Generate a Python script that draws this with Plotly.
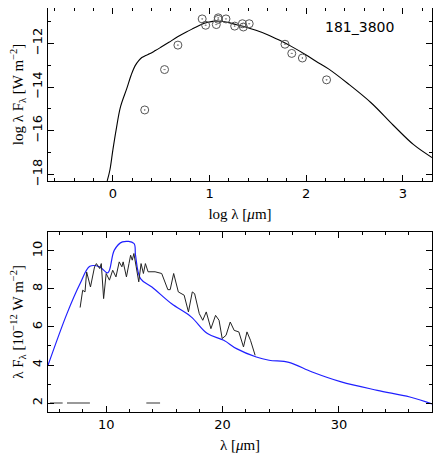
import plotly.graph_objects as go
from plotly.subplots import make_subplots

# top panel: SED (log scale)
phot_x = [0.33, 0.535, 0.673, 0.924, 0.96, 1.07, 1.09, 1.09, 1.17, 1.26, 1.34, 1.35, 1.41, 1.78, 1.85, 1.96, 2.21]
phot_y = [-15.05, -13.2, -12.08, -10.88, -11.17, -11.14, -10.83, -10.9, -10.88, -11.21, -11.1, -11.25, -11.1,
          -12.04, -12.46, -12.67, -13.67]
sed_x = [-0.058, -0.03, 0.0, 0.034, 0.08, 0.145, 0.19, 0.23, 0.27, 0.30, 0.34, 0.38, 0.44, 0.50, 0.58, 0.67,
         0.76, 0.84, 0.92, 0.975, 1.05, 1.11, 1.2, 1.28, 1.38, 1.48, 1.6, 1.72, 1.85, 1.99, 2.1, 2.23, 2.43, 2.67,
         2.90, 3.11, 3.30]
sed_y = [-18.3, -17.8, -16.9, -15.97, -14.9, -14.06, -13.45, -13.03, -12.78, -12.65, -12.55, -12.48, -12.33,
         -12.17, -11.95, -11.7, -11.48, -11.3, -11.12, -11.04, -10.98, -10.99, -11.05, -11.15, -11.26, -11.40,
         -11.6, -11.85, -12.15, -12.51, -12.82, -13.17, -13.84, -14.72, -15.75, -16.64, -17.23]

# bottom panel: model (blue) and spectrum (black)
mod_x = [5.0, 6.63, 7.76, 8.6, 9.44, 10.14, 10.7, 11.4, 12.38, 12.52, 12.95, 13.93, 15.6, 17.3, 18.7, 20.1, 21.2,
         22.9, 24.0, 25.7, 27.7, 30.2, 33.3, 36.1, 38.0]
mod_y = [3.98, 6.70, 8.28, 9.19, 9.16, 8.84, 10.04, 10.47, 10.39, 9.77, 8.54, 8.1, 7.23, 6.53, 5.65, 5.30, 4.86,
         4.42, 4.25, 4.14, 3.63, 3.11, 2.67, 2.32, 1.96]
spec_x = [7.76, 7.98, 8.18, 8.32, 8.65, 9.0, 9.16, 9.44, 9.58, 9.78, 10.0, 10.28, 10.56, 10.84, 11.12, 11.35, 11.46,
          11.74, 11.96, 12.1, 12.24, 12.38, 12.58, 12.8, 13.0, 13.2, 13.37, 13.6, 14.2, 14.77, 15.3, 15.5, 15.8,
          16.2, 16.7, 17.07, 17.4, 17.6, 18.0, 18.3, 18.6, 19.0, 19.4, 19.7, 19.97, 20.3, 20.66, 21.0, 21.4, 21.8,
          22.1, 22.4, 22.8]
spec_y = [7.02, 7.93, 7.84, 8.89, 8.1, 9.16, 9.33, 9.07, 9.33, 7.49, 8.81, 8.46, 8.98, 8.63, 9.42, 9.16, 9.42,
          8.63, 9.33, 9.77, 9.51, 9.86, 9.16, 8.37, 9.33, 8.81, 9.33, 8.9, 8.9, 8.81, 7.96, 7.96, 8.81, 7.84, 7.67,
          6.79, 7.84, 7.75, 6.7, 6.35, 6.79, 5.91, 6.61, 6.35, 5.39, 5.56, 6.26, 5.82, 5.74, 4.95, 5.74, 5.3, 4.51]
band_x = [5.17, 6.26, None, 6.63, 8.6, None, 13.45, 14.63]
band_y = [2, 2, None, 2, 2, None, 2, 2]

fig = make_subplots(rows=2, cols=1)

fig.add_trace(go.Scatter(x=sed_x, y=sed_y, mode="lines", line=dict(color="black", width=1.1, shape="spline")),
              row=1, col=1)
fig.add_trace(go.Scatter(x=phot_x, y=phot_y, mode="markers",
                         marker=dict(symbol="circle-dot", size=8, color="rgba(0,0,0,0)",
                                     line=dict(color="#555", width=1))), row=1, col=1)
fig.add_trace(go.Scatter(x=mod_x, y=mod_y, mode="lines", line=dict(color="#2020ff", width=1.2, shape="spline")),
              row=2, col=1)
fig.add_trace(go.Scatter(x=spec_x, y=spec_y, mode="lines", line=dict(color="#222", width=1)), row=2, col=1)
fig.add_trace(go.Scatter(x=band_x, y=band_y, mode="lines", line=dict(color="#777", width=1.5)), row=2, col=1)

fig.add_annotation(x=2.55, y=-11.26, text="181_3800", showarrow=False, xref="x", yref="y",
                   font=dict(size=14, color="black", family="DejaVu Sans"))

ax = dict(showline=True, linecolor="black", mirror="allticks", ticks="inside", ticklen=6, tickcolor="black",
          showgrid=False, zeroline=False, tickfont=dict(size=13, family="DejaVu Sans", color="black"),
          title_font=dict(size=15, family="Liberation Serif", color="black"))
minor = dict(ticks="inside", ticklen=3, tickcolor="black", showgrid=False)

fig.update_xaxes(ax, range=[-0.67, 3.3], dtick=1, minor=dict(minor, dtick=0.2), row=1, col=1,
                 title_text="log λ [<i>μ</i>m]", title_standoff=8)
fig.update_yaxes(ax, range=[-18.3, -10.38], dtick=2, minor=dict(minor, dtick=1), tickangle=-90, row=1, col=1,
                 domain=[0.572, 1], title_text="log λ F<sub>λ</sub> [W m<sup>−2</sup>]", title_standoff=2)
fig.update_xaxes(ax, range=[5.0, 38.0], dtick=10, minor=dict(minor, dtick=2), row=2, col=1,
                 title_text="λ [<i>μ</i>m]", title_standoff=8)
fig.update_yaxes(ax, range=[1.53, 11.0], dtick=2, minor=dict(minor, dtick=1), tickangle=-90, row=2, col=1,
                 domain=[0, 0.446], title_text="λ F<sub>λ</sub> [10<sup>−12</sup> W m<sup>−2</sup>]",
                 title_standoff=2)

fig.update_layout(width=425, height=447, margin=dict(l=40, r=1, t=0, b=43), showlegend=False,
                  plot_bgcolor="white", paper_bgcolor="white")
fig.write_html("out.html")
